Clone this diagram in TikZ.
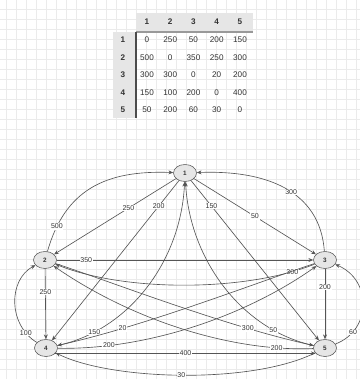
\documentclass[tikz,border=0pt]{standalone}
\usepackage{fontspec}
\setmainfont{Liberation Sans}
\usetikzlibrary{arrows.meta,shapes.geometric}
\definecolor{cellgray}{HTML}{E6E6E6}
\definecolor{gridgray}{HTML}{EBEBEB}
\definecolor{wiregray}{HTML}{555555}

\begin{document}
\begin{tikzpicture}[x=0.25mm,y=-0.25mm,>={Stealth[length=3.4pt,width=2.8pt]},
  every node/.style={font=\fontsize{5}{6}\selectfont,text=black!80},
  cell/.style={font=\fontsize{5.8}{7}\selectfont},
  hdr/.style={font=\fontsize{5.8}{7}\selectfont\bfseries},
  vtx/.style={ellipse,draw=black!65,fill=cellgray,minimum width=5.75mm,minimum height=4.25mm,inner sep=0pt,font=\fontsize{4.5}{5}\selectfont\bfseries},
  wt/.style={fill=white,inner sep=0.5pt},
  lnk/.style={->,draw=wiregray,line width=0.45pt}]
\useasboundingbox (0,0) rectangle (360,379);
\fill[white] (0,0) rectangle (360,379);
% background grid
\foreach \g in {6,16,...,356} \draw[gridgray,line width=0.3pt] (\g,0) -- (\g,379);
\foreach \g in {9,19,...,369} \draw[gridgray,line width=0.3pt] (0,\g) -- (360,\g);
% cost matrix
\fill[cellgray] (136,13) rectangle (253,32);
\fill[cellgray] (113,32) rectangle (136,118);
\draw[black!40,line width=0.8pt] (136,32) -- (253,32);
\draw[black!70,line width=0.8pt] (136,32) -- (136,118);
\foreach \i in {1,...,5} {
  \node[hdr] (c\i) at ({123.75+23.25*\i},22) {\i};
  \node[hdr] (r\i) at (123,{22.5+17.5*\i}) {\i};
}
\foreach \row [count=\i] in {{0,250,50,200,150},{500,0,350,250,300},{300,300,0,20,200},{150,100,200,0,400},{50,200,60,30,0}}
  \foreach \v [count=\j] in \row
    \node[cell] (m\i\j) at ({123.75+23.25*\j},{22.5+17.5*\i}) {\v};
% graph
\node[vtx] (n1) at (185,173) {1};
\node[vtx] (n2) at (45,260) {2};
\node[vtx] (n3) at (325,260) {3};
\node[vtx] (n4) at (46,348) {4};
\node[vtx] (n5) at (325,348) {5};
\draw[lnk] (n1) -- node[wt,pos=0.39]{250} (n2);
\draw[lnk] (n2) .. controls (65,190) and (105,170) .. node[wt,pos=0.15]{500} (n1);
\draw[lnk] (n1) -- node[wt,pos=0.5]{50} (n3);
\draw[lnk] (n3) .. controls (320,190) and (265,170) .. node[wt,pos=0.45]{300} (n1);
\draw[lnk] (n1) -- node[wt,pos=0.16]{200} (n4);
\draw[lnk] (n1) -- node[wt,pos=0.16]{150} (n5);
\draw[lnk] (n4) .. controls (130,330) and (181,260) .. node[wt,pos=0.18]{150} (n1);
\draw[lnk] (n5) .. controls (242,330) and (190,260) .. node[wt,pos=0.2]{50} (n1);
\draw[lnk] (n2) -- node[wt,pos=0.115]{350} (n3);
\draw[lnk] (n3) .. controls (245,292) and (125,292) .. node[wt,pos=0.1]{300} (n2);
\draw[lnk] (n2) -- node[wt,pos=0.33]{250} (n4);
\draw[lnk] (n4) .. controls (8,325) and (8,280) .. node[wt,pos=0.15]{100} (n2);
\draw[lnk] (n3) -- node[wt,pos=0.26]{200} (n5);
\draw[lnk] (n5) .. controls (372,330) and (372,280) .. node[wt,pos=0.2]{60} (n3);
\draw[lnk] (n2) .. controls (120,285) and (225,326) .. node[wt,pos=0.76]{300} (n5);
\draw[lnk] (n5) .. controls (235,352) and (135,322) .. node[wt,pos=0.15]{200} (n2);
\draw[lnk] (n3) .. controls (250,285) and (145,326) .. node[wt,pos=0.76]{20} (n4);
\draw[lnk] (n4) .. controls (140,350) and (240,320) .. node[wt,pos=0.2]{200} (n3);
\draw[lnk] (n4.-30) -- node[wt]{400} (n5.-150);
\draw[lnk] (n5) .. controls (250,385) and (110,380) .. node[wt,pos=0.5]{30} (n4);
\end{tikzpicture}
\end{document}
